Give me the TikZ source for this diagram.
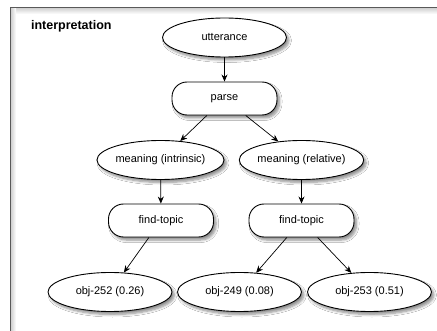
\documentclass[tikz,border=0pt]{standalone}
\usepackage{fontspec}
\setmainfont{Liberation Sans}
\usetikzlibrary{shapes.geometric,arrows.meta,shadows.blur}
\begin{document}
\begin{tikzpicture}[x=1pt,y=-1pt,
  base/.style={draw=black,line width=0.9pt,fill=white,font=\fontsize{11}{13}\selectfont,inner sep=0pt,
    blur shadow={shadow xshift=2.5pt,shadow yshift=-3pt,shadow blur steps=6,shadow blur radius=2.5pt,shadow opacity=45}},
  ell/.style={base,ellipse,minimum width=124pt,minimum height=39pt},
  pill/.style={base,rectangle,rounded corners=15pt,minimum width=105pt,minimum height=33pt},
  conn/.style={-{Stealth[length=7pt,width=6pt]},line width=0.7pt}]
\useasboundingbox (0,0) rectangle (437,331);
\fill[white] (0,0) rectangle (437,331);
% frame with inner shading
\shade[top color=black!18,bottom color=white] (10.5,8) rectangle (437,14);
\shade[left color=black!18,right color=white] (11,8) rectangle (16,331);
\draw[black!65,line width=1.2pt] (10.5,331) -- (10.5,7.5) -- (437,7.5);
\node[anchor=base west,font=\fontsize{12.5}{14}\selectfont\bfseries] (title) at (27.5,30) {interpretation};
\node[ell] (utt) at (224.5,37.5) {utterance};
\node[pill] (parse) at (224.5,98.5) {parse};
\node[ell] (mi) at (160.5,160) {meaning (intrinsic)};
\node[ell] (mr) at (301.5,160) {meaning (relative)};
\node[pill] (ftl) at (161,220.5) {find-topic};
\node[pill] (ftr) at (301.5,220.5) {find-topic};
\node[ell] (o252) at (110,292) {obj-252 (0.26)};
\node[ell] (o249) at (239.5,292) {obj-249 (0.08)};
\node[ell] (o253) at (369.5,292) {obj-253 (0.51)};
\draw[conn] (utt) -- (parse);
\draw[conn] (parse) -- (mi);
\draw[conn] (parse) -- (mr);
\draw[conn] (mi) -- (ftl);
\draw[conn] (mr) -- (ftr);
\draw[conn] (ftl) -- (o252);
\draw[conn] (ftr) -- (o249);
\draw[conn] (ftr) -- (o253);
\end{tikzpicture}
\end{document}
